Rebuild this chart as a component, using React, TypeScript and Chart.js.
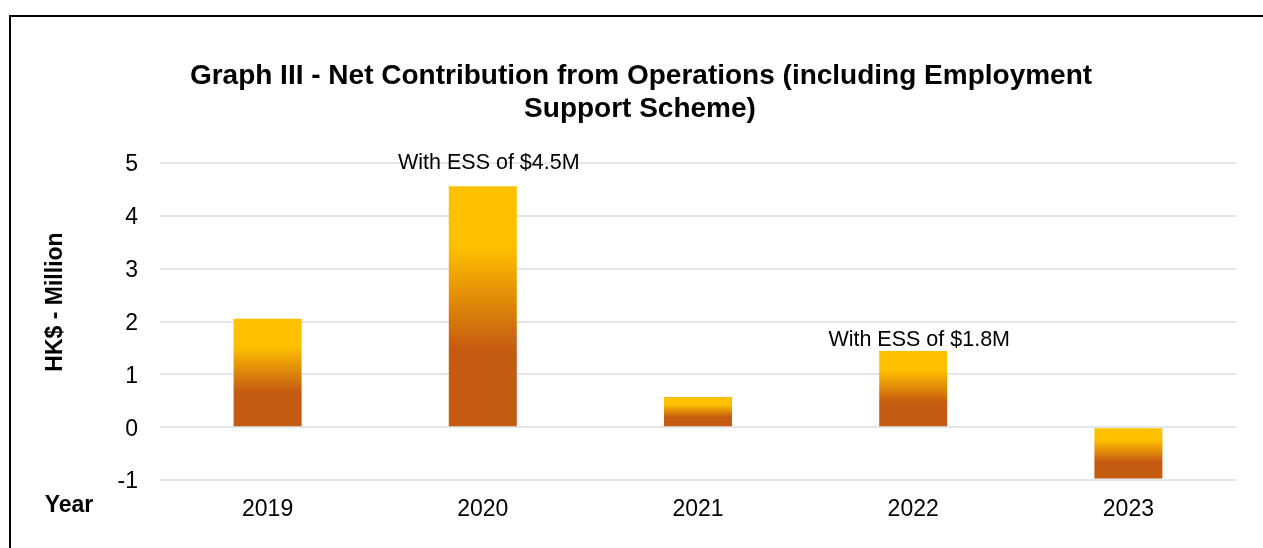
import React, { useEffect, useRef } from "react";
import { Chart, registerables } from "chart.js";

Chart.register(...registerables);

const categories = ["2019", "2020", "2021", "2022", "2023"];
const netContribution = [2.05, 4.56, 0.57, 1.44, -0.97];
const annotations = ["", "With ESS of $4.5M", "", "With ESS of $1.8M", ""];
const titleLines = [
  "Graph III - Net Contribution from Operations (including Employment",
  "Support Scheme)",
];
const yAxisTitle = "HK$ - Million";
const xAxisTitle = "Year";
const yMin = -1;
const yMax = 5;
const yStep = 1;

// style-only offsets (px above bar top) for annotation labels
const annotationOffsets = [0, 23, 0, 11, 0];

const FONT = "'Liberation Sans', Arial, sans-serif";
const GOLD = "#FFC000";
const ORANGE = "#C55A11";

const textPlugin = {
  id: "customText",
  afterDraw(chart: any) {
    const ctx = chart.ctx;
    const xs = chart.scales.x;
    const ys = chart.scales.y;
    ctx.save();
    ctx.fillStyle = "#000";
    ctx.textAlign = "center";
    ctx.textBaseline = "middle";
    // title
    ctx.font = `bold 28px ${FONT}`;
    ctx.fillText(titleLines[0], 641, 76);
    ctx.fillText(titleLines[1], 640, 109);
    // y-axis title
    ctx.save();
    ctx.translate(56, 302);
    ctx.rotate(-Math.PI / 2);
    ctx.font = `bold 23px ${FONT}`;
    ctx.fillText(yAxisTitle, 0, 0);
    ctx.restore();
    // x-axis title
    ctx.font = `bold 23px ${FONT}`;
    ctx.fillText(xAxisTitle, 69, 506);
    // annotations
    ctx.font = `21.5px ${FONT}`;
    annotations.forEach((txt, i) => {
      if (!txt) return;
      const x = xs.getPixelForValue(i);
      const v = netContribution[i];
      const top = ys.getPixelForValue(Math.max(v, 0));
      ctx.fillText(txt, x + 6, top - annotationOffsets[i]);
    });
    ctx.restore();
  },
};

export default function App() {
  const canvasRef = useRef<HTMLCanvasElement | null>(null);

  useEffect(() => {
    const canvas = canvasRef.current;
    if (!canvas) return;
    const chart = new Chart(canvas, {
      type: "bar",
      data: {
        labels: categories,
        datasets: [
          {
            label: "Net Contribution",
            data: netContribution,
            backgroundColor: (c: any) => {
              const ch = c.chart;
              const ys = ch.scales?.y;
              if (!ys || c.parsed == null || c.parsed.y == null) return ORANGE;
              const p0 = ys.getPixelForValue(0);
              const pv = ys.getPixelForValue(c.parsed.y);
              const top = Math.min(p0, pv);
              const bottom = Math.max(p0, pv);
              if (!isFinite(top) || !isFinite(bottom) || bottom - top < 1) return ORANGE;
              const g = ch.ctx.createLinearGradient(0, top, 0, bottom);
              g.addColorStop(0, GOLD);
              g.addColorStop(0.25, GOLD);
              g.addColorStop(0.68, ORANGE);
              g.addColorStop(1, ORANGE);
              return g;
            },
            borderWidth: 0,
            categoryPercentage: 1,
            barPercentage: 0.316,
          },
        ],
      },
      options: {
        animation: false,
        responsive: false,
        devicePixelRatio: 1,
        layout: { padding: { left: 0, right: 27, top: 163, bottom: 0 } },
        plugins: {
          legend: { display: false },
          title: { display: false },
          tooltip: { enabled: false },
        },
        scales: {
          x: {
            grid: { display: false, drawTicks: false },
            border: { display: false },
            ticks: {
              color: "#000",
              font: { family: FONT, size: 23 },
              padding: 16,
            },
            afterFit: (s: any) => {
              s.height = 68;
            },
          },
          y: {
            min: yMin,
            max: yMax,
            grid: { color: "#e2e5e9", lineWidth: 2, drawTicks: false },
            border: { display: false },
            ticks: {
              stepSize: yStep,
              color: "#000",
              font: { family: FONT, size: 23 },
              padding: 22,
              labelOffset: 2,
            },
            afterFit: (s: any) => {
              s.width = 160;
            },
          },
        },
      },
      plugins: [textPlugin],
    });
    return () => chart.destroy();
  }, []);

  return (
    <div style={{ position: "fixed", left: 0, top: 0, width: 1263, height: 548, overflow: "hidden", background: "#fff" }}>
      <div
        style={{
          position: "absolute",
          left: 9,
          top: 15,
          width: 2000,
          height: 2000,
          borderLeft: "2px solid #000",
          borderTop: "2px solid #000",
        }}
      />
      <canvas
        ref={canvasRef}
        width={1263}
        height={548}
        style={{ position: "absolute", left: 0, top: 0, width: 1263, height: 548 }}
      />
    </div>
  );
}
